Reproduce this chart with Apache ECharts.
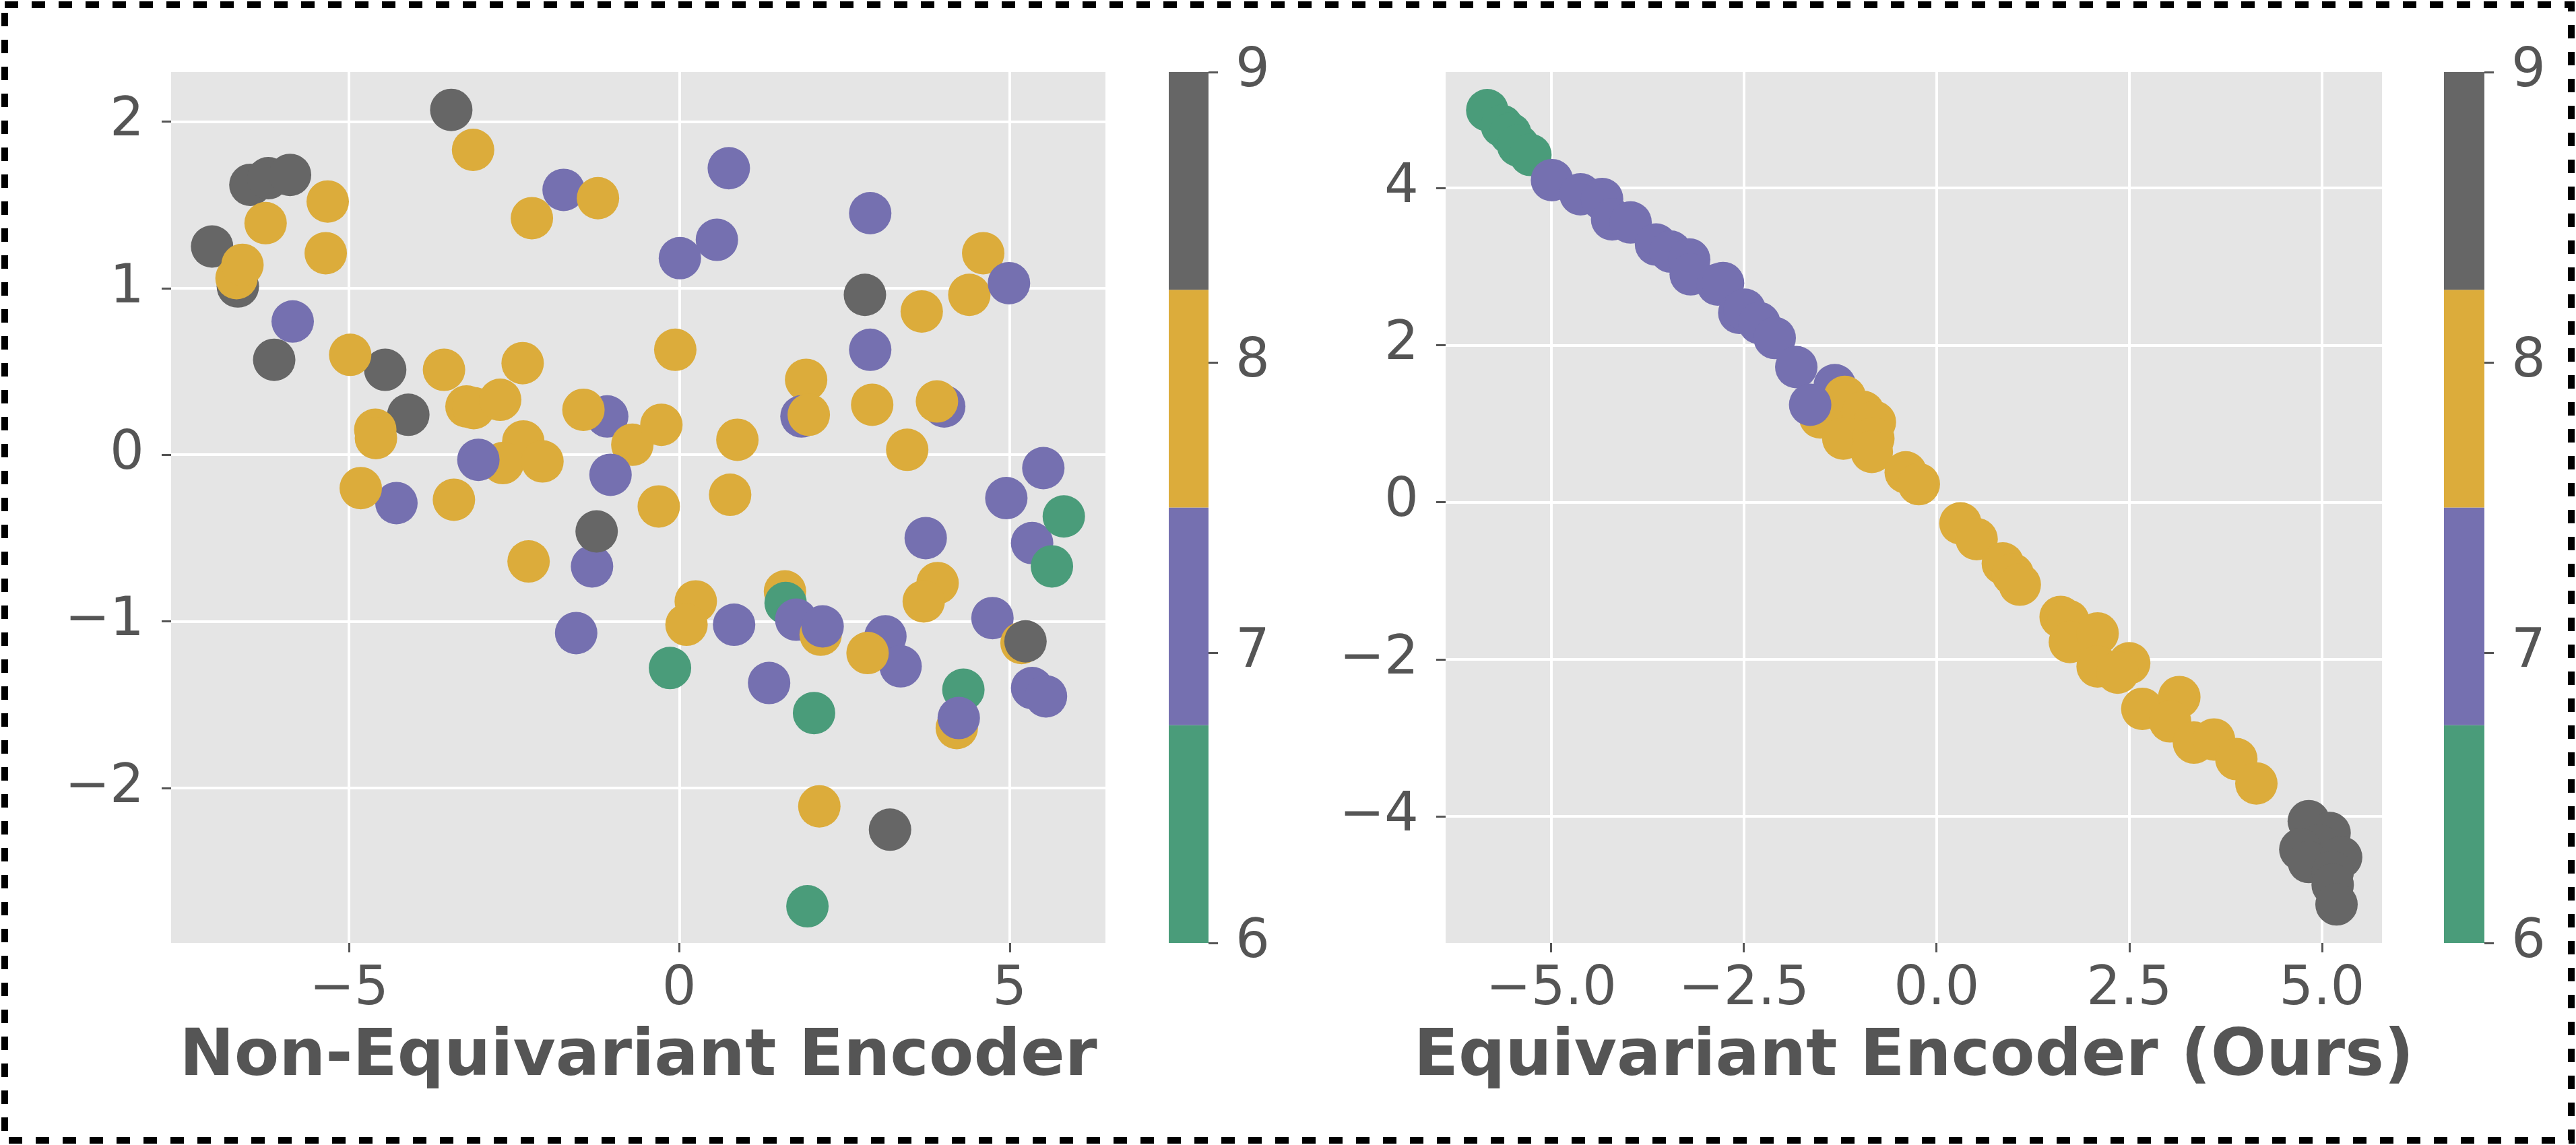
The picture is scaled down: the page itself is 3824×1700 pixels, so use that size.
<!DOCTYPE html>
<html style="height: 100%">
<head>
<meta charset="utf-8">
</head>
<body style="height: 100%; margin: 0; background: #ffffff">
<div id="container" style="width: 3824px; height: 1700px"></div>
<script type="text/javascript" src="https://cdn.jsdelivr.net/npm/echarts@6.0.0/dist/echarts.min.js"></script>
<script type="text/javascript">
var dom = document.getElementById("container");
var myChart = echarts.init(dom);

// class -> colour (digits 6..9)
var classColors = {6: '#4a9c7a', 7: '#7570b0', 8: '#dcac3b', 9: '#666666'};

// left panel: Non-Equivariant Encoder
var leftX = [-7.07,-6.68,-6.70,-6.61,-6.49,-6.22,-5.89,-6.26,-5.32,-5.35,-6.13,-5.85,-4.45,-4.98,-3.56,-2.37,-4.10,-4.60,-4.59,-3.22,
             -3.11,-2.71,-1.09,-1.45,-0.71,-2.36,-2.67,-2.07,-3.04,-1.04,-4.28,-4.82,-3.41,-1.32,-1.25,-0.31,-2.28,-1.56,-3.45,-3.12,
             -2.23,-1.75,-1.23,0.75,2.89,0.57,0.01,4.60,4.39,4.99,2.81,3.67,2.89,-0.06,1.92,1.85,1.96,2.92,4.01,3.90,
             -0.27,0.88,3.45,0.77,5.51,4.95,5.34,5.82,3.73,5.64,3.91,3.70,0.25,0.11,0.83,1.60,1.61,1.77,2.14,2.17,
             3.12,3.35,2.85,4.74,5.18,5.24,4.30,4.20,4.23,5.34,5.55,-0.14,1.36,2.04,2.12,3.19,1.94];
var leftY = [1.25,1.01,1.06,1.14,1.62,1.66,1.68,1.39,1.52,1.21,0.57,0.80,0.51,0.60,0.51,0.55,0.24,0.15,0.10,0.29,
             0.28,0.33,0.23,0.27,0.06,0.08,-0.05,-0.04,-0.03,-0.12,-0.29,-0.20,-0.27,-0.67,-0.46,-0.31,-0.64,-1.07,2.07,1.83,
             1.42,1.59,1.54,1.72,1.45,1.29,1.18,1.21,0.96,1.03,0.96,0.86,0.63,0.63,0.45,0.23,0.24,0.30,0.29,0.32,
             0.18,0.09,0.03,-0.24,-0.08,-0.26,-0.53,-0.37,-0.50,-0.67,-0.77,-0.88,-0.88,-1.02,-1.02,-0.82,-0.89,-0.99,-1.08,-1.03,
             -1.09,-1.27,-1.19,-0.98,-1.13,-1.12,-1.41,-1.64,-1.58,-1.40,-1.45,-1.28,-1.37,-1.55,-2.11,-2.25,-2.71];
var leftLabel = [9,9,8,8,9,9,9,8,8,8,9,7,9,8,8,8,9,8,8,8,
                 8,8,7,8,8,8,8,8,7,7,7,8,8,7,9,8,8,7,9,8,
                 8,7,8,7,7,7,7,8,8,7,9,8,7,8,8,7,8,8,7,8,
                 8,8,8,8,7,7,7,6,7,6,8,8,8,8,7,8,6,7,8,7,
                 7,7,8,7,8,9,6,8,7,7,7,6,7,6,8,9,6];

// right panel: Equivariant Encoder (Ours)
var rightX = [-5.83,-5.64,-5.53,-5.43,-5.27,-4.99,-4.62,-4.34,-4.21,-3.97,-3.64,-3.45,-3.21,-3.19,-2.84,-2.77,-2.56,-2.49,-2.30,-2.10,
              -1.82,-1.32,-1.19,-0.95,-0.80,-1.51,-1.21,-1.64,-0.82,-0.84,-0.40,-0.23,0.31,0.52,0.86,0.99,1.08,1.61,1.71,1.73,
              2.09,2.09,2.50,2.35,2.67,3.15,3.03,3.34,3.60,3.89,4.15,4.83,5.10,4.97,4.72,4.83,5.25,5.14,5.14,5.19];
var rightY = [4.99,4.79,4.69,4.54,4.42,4.10,3.92,3.86,3.60,3.56,3.28,3.19,3.09,2.90,2.77,2.79,2.41,2.45,2.28,2.09,
              1.72,1.49,1.34,1.15,1.02,1.08,0.81,1.24,0.81,0.64,0.38,0.23,-0.27,-0.47,-0.78,-0.92,-1.05,-1.46,-1.51,-1.78,
              -1.67,-2.09,-2.05,-2.17,-2.63,-2.48,-2.79,-3.06,-3.02,-3.27,-3.58,-4.06,-4.21,-4.37,-4.42,-4.58,-4.52,-4.71,-4.87,-5.12];
var rightLabel = [6,6,6,6,6,7,7,7,7,7,7,7,7,7,7,7,7,7,7,7,
                  7,7,8,8,8,8,8,7,8,8,8,8,8,8,8,8,8,8,8,8,
                  8,8,8,8,8,8,8,8,8,8,8,9,9,9,9,9,9,9,9,9];

// tick labels
var leftTicksX = [-5, 0, 5];
var leftTicksY = [-2, -1, 0, 1, 2];
var rightTicksX = [-5, -2.5, 0, 2.5, 5];
var rightTicksY = [-4, -2, 0, 2, 4];
var colorbarTicks = [6, 7, 8, 9];

// colour bar pieces
var colorbarLow = [6, 6.75, 7.5, 8.25];
var colorbarHigh = [6.75, 7.5, 8.25, 9];
var colorbarClass = [6, 7, 8, 9];

var fontName = 'DejaVu Sans';
var textColor = '#555555';

function minus(v) {
    return String(v).replace('-', '\u2212');
}

function points(xs, ys, labels) {
    var out = [];
    for (var i = 0; i < xs.length; i++) {
        out.push([xs[i], ys[i], labels[i]]);
    }
    return out;
}

function plotAxis(gridIndex, min, max, ticks, fmt, name) {
    var axis = {
        gridIndex: gridIndex,
        type: 'value',
        min: min,
        max: max,
        axisLine: {show: false, onZero: false},
        axisTick: {show: true, length: 14, customValues: ticks, lineStyle: {color: textColor, width: 3}},
        axisLabel: {customValues: ticks, formatter: fmt, fontSize: 80, color: textColor, fontFamily: fontName},
        splitLine: {show: true, lineStyle: {color: '#ffffff', width: 4}}
    };
    if (name) {
        axis.name = name;
        axis.nameLocation = 'middle';
        axis.nameGap = 122;
        axis.nameTextStyle = {fontSize: 97, fontWeight: 'bold', color: textColor, fontFamily: fontName};
    }
    return axis;
}

function colorbarAxisY(gridIndex) {
    return {
        gridIndex: gridIndex,
        type: 'value',
        min: 6,
        max: 9,
        interval: 1,
        position: 'right',
        axisLine: {show: false, onZero: false},
        axisTick: {show: true, length: 14, customValues: colorbarTicks, lineStyle: {color: textColor, width: 3}},
        axisLabel: {margin: 40, customValues: colorbarTicks, fontSize: 80, color: textColor, fontFamily: fontName},
        splitLine: {show: false}
    };
}

function colorbarSeries(idx) {
    var data = [];
    for (var i = 0; i < colorbarLow.length; i++) {
        data.push([colorbarLow[i], colorbarHigh[i], colorbarClass[i]]);
    }
    return {
        type: 'custom',
        xAxisIndex: idx,
        yAxisIndex: idx,
        silent: true,
        data: data,
        renderItem: function (params, api) {
            var p0 = api.coord([0, api.value(1)]);
            var p1 = api.coord([1, api.value(0)]);
            return {
                type: 'rect',
                shape: {x: p0[0], y: p0[1], width: p1[0] - p0[0], height: p1[1] - p0[1]},
                style: {fill: classColors[api.value(2)]}
            };
        }
    };
}

function scatterSeries(idx, data) {
    return {
        type: 'scatter',
        xAxisIndex: idx,
        yAxisIndex: idx,
        symbolSize: 63,
        silent: true,
        data: data,
        itemStyle: {
            opacity: 1,
            color: function (p) { return classColors[p.data[2]]; }
        }
    };
}

var leftX0 = plotAxis(0, -7.69, 6.45, leftTicksX, minus, 'Non-Equivariant Encoder');
leftX0.axisLabel.margin = 30;
var leftY0 = plotAxis(0, -2.93, 2.297, leftTicksY, minus);
leftY0.axisLabel.margin = 40;
var rightX0 = plotAxis(1, -6.37, 5.78, rightTicksX, function (v) { return minus(v.toFixed(1)); }, 'Equivariant Encoder (Ours)');
rightX0.axisLabel.margin = 30;
var rightY0 = plotAxis(1, -5.61, 5.475, rightTicksY, minus);
rightY0.axisLabel.margin = 40;

var option = {
    backgroundColor: '#ffffff',
    animation: false,
    grid: [
        {left: 254, top: 107, width: 1387, height: 1293, show: true, backgroundColor: '#e5e5e5', borderWidth: 0},
        {left: 2146, top: 107, width: 1390, height: 1293, show: true, backgroundColor: '#e5e5e5', borderWidth: 0},
        {left: 1735, top: 107, width: 59, height: 1293},
        {left: 3628, top: 107, width: 60, height: 1293}
    ],
    xAxis: [
        leftX0,
        rightX0,
        {gridIndex: 2, type: 'value', min: 0, max: 1, show: false, axisLine: {onZero: false}},
        {gridIndex: 3, type: 'value', min: 0, max: 1, show: false, axisLine: {onZero: false}}
    ],
    yAxis: [
        leftY0,
        rightY0,
        colorbarAxisY(2),
        colorbarAxisY(3)
    ],
    graphic: [{
        type: 'rect',
        silent: true,
        shape: {x: 7, y: 7, width: 3810, height: 1686},
        style: {fill: 'none', stroke: '#000000', lineWidth: 10, lineDash: [20, 20]}
    }],
    series: [
        scatterSeries(0, points(leftX, leftY, leftLabel)),
        scatterSeries(1, points(rightX, rightY, rightLabel)),
        colorbarSeries(2),
        colorbarSeries(3)
    ]
};

myChart.setOption(option, true);
</script>
</body>
</html>
